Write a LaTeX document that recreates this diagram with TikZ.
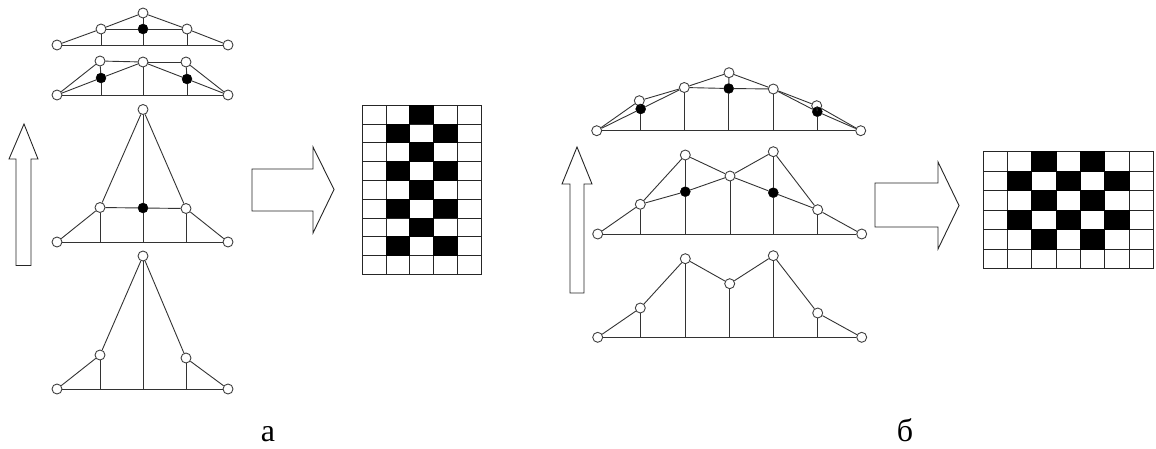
\documentclass[tikz,border=0pt]{standalone}
\usepackage{fontspec}
\setmainfont{Liberation Serif}
\usepackage{tikz}
\usetikzlibrary{positioning}

\begin{document}
\begin{tikzpicture}[
  x=1pt, y=-1pt,
  edge/.style={line width=0.9pt, draw=black!80},
  wht/.style={circle, draw=black!75, line width=0.9pt, fill=white, minimum size=10pt, inner sep=0pt},
  blk/.style={circle, draw=black, fill=black, minimum size=10pt, inner sep=0pt},
  blockarr/.style={line width=0.9pt, draw=black!85, fill=white, line join=miter},
  cell/.style={rectangle, draw=black!85, line width=0.9pt, inner sep=0pt, anchor=north west},
  lbl/.style={font=\fontsize{32pt}{34pt}\selectfont, anchor=base, inner sep=0pt}]
  \useasboundingbox (0,0) rectangle (1156,448);

  % block arrows
  \draw[blockarr] (16,265.5) -- (16,159) -- (9,159) -- (24,124) -- (38,159) -- (31,159) -- (31,265.5) -- cycle;
  \draw[blockarr] (252,169) -- (313,169) -- (313,147) -- (334,189.5) -- (313,233) -- (313,211) -- (252,211) -- cycle;
  \draw[blockarr] (570,293) -- (570,184) -- (562,184) -- (577,147) -- (592,184) -- (584,184) -- (584,293) -- cycle;
  \draw[blockarr] (875,183) -- (938,183) -- (938,162) -- (959,205.5) -- (938,249) -- (938,227) -- (875,227) -- cycle;

  % truss a1
  \node[wht] (al) at (57,45) {};
  \node[wht] (au) at (101,29) {};
  \node[wht] (at) at (143,13) {};
  \node[wht] (av) at (187,29) {};
  \node[wht] (ar) at (228,45) {};
  \node[blk] (ab) at (143,29) {};
  \foreach \p/\q in {al/au, au/at, at/av, av/ar, al/ar, au/ab, ab/av, at/ab}
    \draw[edge] (\p) -- (\q);
  \foreach \p in {au, ab, av}
    \draw[edge] (\p) -- (\p |- al);

  % truss a2
  \node[wht] (bl) at (57,95) {};
  \node[wht] (bu) at (100,61) {};
  \node[wht] (bt) at (143,62) {};
  \node[wht] (bv) at (186,62) {};
  \node[wht] (br) at (228,95) {};
  \node[blk] (bb) at (101,78) {};
  \node[blk] (bc) at (187,79) {};
  \foreach \p/\q in {bl/bu, bu/bt, bt/bv, bv/br, bl/br, bl/bb, bb/bt, bt/bc, bc/br, bu/bb, bv/bc}
    \draw[edge] (\p) -- (\q);
  \foreach \p in {bb, bt, bc}
    \draw[edge] (\p) -- (\p |- bl);

  % truss a3
  \node[wht] (cl) at (57,242) {};
  \node[wht] (cu) at (100,207.5) {};
  \node[wht] (ct) at (143,109.5) {};
  \node[wht] (cv) at (186,208.5) {};
  \node[wht] (cr) at (228,242) {};
  \node[blk] (cb) at (143,208) {};
  \foreach \p/\q in {cl/cu, cu/ct, ct/cv, cv/cr, cl/cr, cu/cb, cb/cv, ct/cb}
    \draw[edge] (\p) -- (\q);
  \foreach \p in {cu, cb, cv}
    \draw[edge] (\p) -- (\p |- cl);

  % truss a4
  \node[wht] (dl) at (57,389) {};
  \node[wht] (du) at (100,355) {};
  \node[wht] (dt) at (143,256) {};
  \node[wht] (dv) at (186,358) {};
  \node[wht] (dr) at (228,389) {};
  \foreach \p/\q in {dl/du, du/dt, dt/dv, dv/dr, dl/dr}
    \draw[edge] (\p) -- (\q);
  \foreach \p in {du, dt, dv}
    \draw[edge] (\p) -- (\p |- dl);

  % truss b1
  \node[wht] (el) at (596.7,130.7) {};
  \node[wht] (eu) at (639.3,100.7) {};
  \node[wht] (ev) at (684.3,87.5) {};
  \node[wht] (et) at (729,72.7) {};
  \node[wht] (ew) at (773.3,89) {};
  \node[wht] (ex) at (816.7,105.7) {};
  \node[wht] (er) at (860.7,130.7) {};
  \node[blk] (eb) at (640.7,109) {};
  \node[blk] (ec) at (728.7,88.5) {};
  \node[blk] (ed) at (817.3,111.7) {};
  \foreach \p/\q in {el/eu, eu/ev, ev/et, et/ew, ew/ex, ex/er, el/er, el/eb, eb/ev, ev/ec, ec/ew, ew/ed, ed/er, et/ec, eu/eb, ex/ed}
    \draw[edge] (\p) -- (\q);
  \foreach \p in {eb, ev, ec, ew, ed}
    \draw[edge] (\p) -- (\p |- el);

  % truss b2
  \node[wht] (fl) at (597.7,234) {};
  \node[wht] (fu) at (640.3,204.3) {};
  \node[wht] (fv) at (685.3,155) {};
  \node[wht] (ft) at (730,176) {};
  \node[wht] (fw) at (773.3,151.7) {};
  \node[wht] (fx) at (817.7,209.7) {};
  \node[wht] (fr) at (861.7,234) {};
  \node[blk] (fb) at (685.3,191.7) {};
  \node[blk] (fc) at (773.3,192.7) {};
  \foreach \p/\q in {fl/fu, fu/fv, fv/ft, ft/fw, fw/fx, fx/fr, fl/fr, fu/fb, fb/ft, ft/fc, fc/fx, fv/fb, fw/fc}
    \draw[edge] (\p) -- (\q);
  \foreach \p in {fu, fb, ft, fc, fx}
    \draw[edge] (\p) -- (\p |- fl);

  % truss b3
  \node[wht] (gl) at (597.7,337.3) {};
  \node[wht] (gu) at (640.3,308) {};
  \node[wht] (gv) at (685.3,258.7) {};
  \node[wht] (gt) at (729.7,283.7) {};
  \node[wht] (gw) at (773.3,255.7) {};
  \node[wht] (gx) at (817.7,313) {};
  \node[wht] (gr) at (861.7,337.3) {};
  \foreach \p/\q in {gl/gu, gu/gv, gv/gt, gt/gw, gw/gx, gx/gr, gl/gr}
    \draw[edge] (\p) -- (\q);
  \foreach \p in {gu, gv, gt, gw, gx}
    \draw[edge] (\p) -- (\p |- gl);

  % grids
  \foreach \r in {0,...,8} \foreach \c in {0,...,4}
    \node[cell, minimum width=23.8pt, minimum height=18.8pt] (ga\r\c) at (361.7+\c*23.8,104.7+\r*18.8) {};
  \foreach \r/\c in {0/2, 1/1, 1/3, 2/2, 3/1, 3/3, 4/2, 5/1, 5/3, 6/2, 7/1, 7/3}
    \fill[black] (ga\r\c.north west) rectangle (ga\r\c.south east);

  \foreach \r in {0,...,5} \foreach \c in {0,...,6}
    \node[cell, minimum width=24.3pt, minimum height=19.5pt] (gb\r\c) at (982.8+\c*24.3,151.3+\r*19.5) {};
  \foreach \r/\c in {0/2, 0/4, 1/1, 1/3, 1/5, 2/2, 2/4, 3/1, 3/3, 3/5, 4/2, 4/4}
    \fill[black] (gb\r\c.north west) rectangle (gb\r\c.south east);

  % labels
  \node[lbl] (capa) at (268,441) {а};
  \node[lbl] (capb) at (905,441) {б};
\end{tikzpicture}
\end{document}
